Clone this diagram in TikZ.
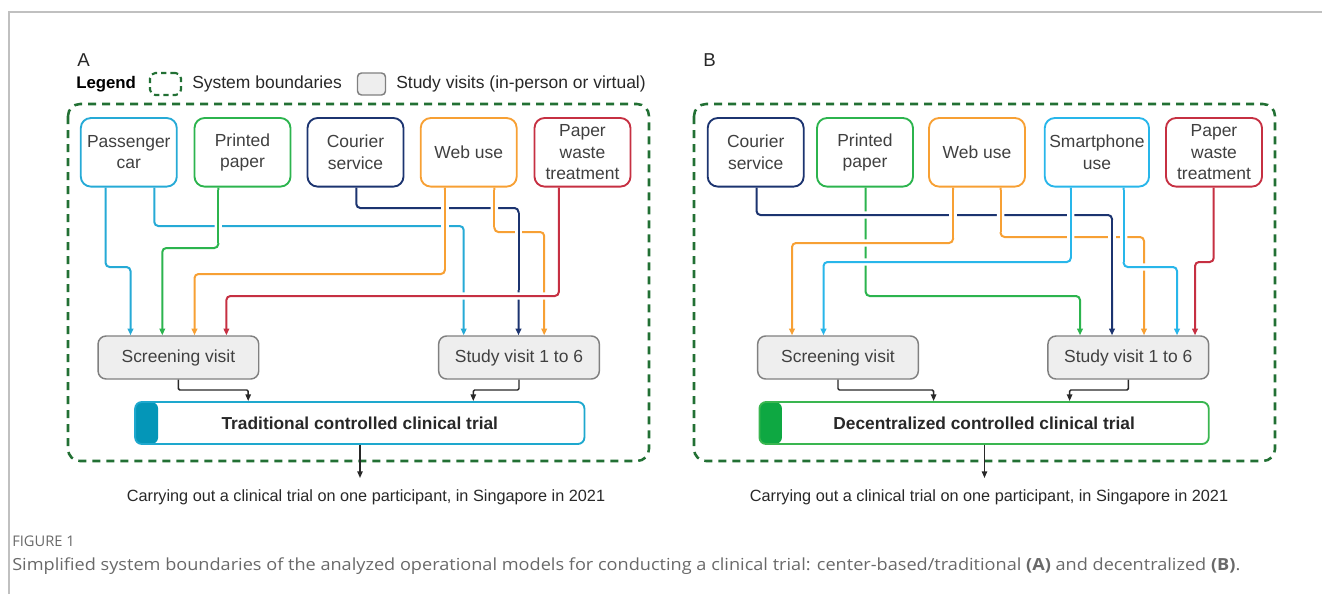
\documentclass[tikz,border=0pt]{standalone}
\usepackage{fontspec}
\setmainfont{Liberation Sans}
\newfontfamily\capfont{Open Sans}
\usetikzlibrary{arrows.meta}
\definecolor{cCyan}{RGB}{38,170,214}
\definecolor{cCyanB}{RGB}{40,182,234}
\definecolor{cGreen}{RGB}{44,180,78}
\definecolor{cNavy}{RGB}{28,52,112}
\definecolor{cOrange}{RGB}{247,160,52}
\definecolor{cRed}{RGB}{198,48,66}
\definecolor{cBound}{RGB}{34,112,52}
\definecolor{cBoxFill}{RGB}{238,238,238}
\definecolor{cBoxDraw}{RGB}{128,128,128}
\definecolor{cText}{RGB}{64,64,64}
\definecolor{cTrialA}{RGB}{30,168,206}
\definecolor{cTrialABar}{RGB}{4,150,184}
\definecolor{cTrialB}{RGB}{58,182,80}
\definecolor{cTrialBBar}{RGB}{14,168,66}
\definecolor{cFrame}{RGB}{192,192,192}
\definecolor{cCap}{RGB}{105,105,105}
\definecolor{cDark}{RGB}{40,40,40}
\pgfdeclarelayer{bg}
\pgfsetlayers{bg,main}
\begin{document}
\begin{tikzpicture}[x=0.75pt,y=-0.75pt,
 src/.style={draw, fill=white, rounded corners=7.5pt, line width=1.4pt, minimum height=51.4pt, minimum width=72pt, inner sep=0pt, align=center, text=cText, font=\fontsize{13.1pt}{16pt}\selectfont},
 visit/.style={draw=cBoxDraw, fill=cBoxFill, rounded corners=6pt, line width=1.1pt, minimum height=32.25pt, minimum width=120.5pt, inner sep=0pt, text=cText, font=\fontsize{13.1pt}{16pt}\selectfont},
 trial/.style={draw=#1, fill=white, rounded corners=5pt, line width=1.4pt, minimum height=31.5pt, minimum width=337pt, inner sep=0pt, font=\bfseries\fontsize{13pt}{16pt}\selectfont, text=cDark},
 bound/.style={draw=cBound, line width=1.9pt, dash pattern=on 6pt off 4.5pt, rounded corners=9pt},
 legdash/.style={draw=cBound, line width=1.6pt, dash pattern=on 4pt off 3pt, rounded corners=4pt, minimum width=23.25pt, minimum height=16.5pt, inner sep=0pt},
 conn/.style={line width=1.5pt, rounded corners=3pt, preaction={draw=white, line width=5.5pt, -}, -{Triangle[length=5pt,width=4.2pt]}},
 jump/.style={line width=1.5pt, preaction={draw=white, line width=5.5pt}},
 flow/.style={draw=cDark, line width=1.1pt, rounded corners=1pt, -{Triangle[length=5pt,width=4pt]}},
 lbl/.style={inner sep=0pt, text=cDark, font=\fontsize{13.1pt}{16pt}\selectfont},
]
\useasboundingbox (0,0) rectangle (1322,594);
\draw[cFrame, line width=1.2pt] (9,594) -- (9,12) -- (1322,12);

% ---------- labels and legend
\node[lbl, font=\fontsize{14pt}{16pt}\selectfont] (labA) at (83.5,60) {A};
\node[lbl, font=\fontsize{14pt}{16pt}\selectfont] (labB) at (709.5,60) {B};
\node[lbl, anchor=west, font=\bfseries\fontsize{12.6pt}{15pt}\selectfont, text=black] (leg) at (76,84) {Legend};
\node[legdash] (legB) at (165.5,84) {};
\node[lbl, anchor=west] (legBt) at (192,84) {System boundaries};
\node[visit, minimum width=21pt, minimum height=16.5pt, rounded corners=3pt] (legV) at (371.5,84) {};
\node[lbl, anchor=west] (legVt) at (396,84) {Study visits (in-person or virtual)};

% ---------- boundaries
\draw[bound] (68,104) rectangle (649,461);
\draw[bound] (694,104) rectangle (1275,461);

% ---------- panel A nodes
\node[src, draw=cCyan]   (pcA) at (128.8,152.3) {Passenger\\car};
\node[src, draw=cGreen]  (ppA) at (242.5,152.3) {Printed\\paper};
\node[src, draw=cNavy]   (csA) at (355.5,152.3) {Courier\\service};
\node[src, draw=cOrange] (wuA) at (468.7,152.3) {Web use};
\node[src, draw=cRed]    (pwA) at (582.5,152.3) {Paper\\waste\\treatment};
\node[visit] (svA) at (178.4,357.5) {Screening visit};
\node[visit] (stA) at (519,357.5) {Study visit 1 to 6};
\node[trial=cTrialA, path picture={\fill[cTrialABar] (path picture bounding box.north west) rectangle ([xshift=17.25pt]path picture bounding box.south west);}] (trA) at (359.8,423) {Traditional controlled clinical trial};

% ---------- panel B nodes
\node[src, draw=cNavy]   (csB) at (755.7,152.3) {Courier\\service};
\node[src, draw=cGreen]  (ppB) at (865,152.3) {Printed\\paper};
\node[src, draw=cOrange] (wuB) at (977,152.3) {Web use};
\node[src, draw=cCyanB, minimum width=78.2pt] (spB) at (1096.9,152.3) {Smartphone\\use};
\node[src, draw=cRed]    (pwB) at (1214,152.3) {Paper\\waste\\treatment};
\node[visit] (svB) at (838,357.5) {Screening visit};
\node[visit] (stB) at (1128.3,357.5) {Study visit 1 to 6};
\node[trial=cTrialB, path picture={\fill[cTrialBBar] (path picture bounding box.north west) rectangle ([xshift=16.9pt]path picture bounding box.south west);}] (trB) at (984.1,423) {Decentralized controlled clinical trial};

% ---------- connectors
\begin{pgfonlayer}{bg}
% panel A, pass 1
\draw[conn, cCyan]   (pcA.south -| 105.6,0) |- (130.5,267) -- (svA.north -| 130.5,0);
\draw[conn, cCyan]   (pcA.south -| 154.3,0) |- (463.7,226) -- (stA.north -| 463.7,0);
\draw[conn, cGreen]  (ppA.south -| 218.3,0) |- (162.3,248) -- (svA.north -| 162.3,0);
\draw[conn, cNavy]   (csA.south -| 356.3,0) |- (518.5,208) -- (stA.north -| 518.5,0);
\draw[conn, cOrange] (wuA.south -| 444.9,0) |- (194.5,274) -- (svA.north -| 194.5,0);
\draw[conn, cOrange] (wuA.south -| 494.4,0) |- (544.2,232) -- (stA.north -| 544.2,0);
\draw[conn, cRed]    (pwA.south -| 558.8,0) |- (226.4,296) -- (svA.north -| 226.4,0);
% panel A, pass 2 (vertical runs over horizontal runs)
\draw[jump, cGreen]  (218.3,190) -- (218.3,243);
\draw[jump, cOrange] (444.9,190) -- (444.9,269);
\draw[jump, cOrange] (494.4,190) -- (494.4,227);
\draw[jump, cNavy]   (518.5,213) -- (518.5,290);
% panel B, pass 1
\draw[conn, cGreen]  (ppB.south -| 865.7,0) |- (1080,296) -- (stB.north -| 1080,0);
\draw[conn, cNavy]   (csB.south -| 756.5,0) |- (1112,215) -- (stB.north -| 1112,0);
\draw[conn, cOrange] (wuB.south -| 1000.6,0) |- (1144,237) -- (stB.north -| 1144,0);
\draw[conn, cOrange] (wuB.south -| 953,0) |- (792,243) -- (svB.north -| 792,0);
\draw[conn, cCyanB]  (spB.south -| 1070.8,0) |- (823.5,262) -- (svB.north -| 823.5,0);
\draw[conn, cCyanB]  (spB.south -| 1123.7,0) |- (1177,267) -- (stB.north -| 1177,0);
\draw[conn, cRed]    (pwB.south -| 1213.7,0) |- (1195,262) -- (stB.north -| 1195,0);
% panel B, pass 2
\draw[jump, cOrange] (953,190) -- (953,238);
\draw[jump, cOrange] (1000.6,190) -- (1000.6,232);
\draw[jump, cCyanB]  (1070.8,190) -- (1070.8,257);
\draw[jump, cNavy]   (1112,220) -- (1112,290);
\draw[jump, cCyanB]  (1123.7,190) -- (1123.7,262);
\end{pgfonlayer}

% ---------- flows to trial and out
\draw[flow] (svA.south) |- (248.2,390) -- (trA.north -| 248.2,0);
\draw[flow] (stA.south) |- (473.3,390) -- (trA.north -| 473.3,0);
\coordinate (outA) at (360,478);
\draw[flow] (trA.south -| outA) -- (outA);
\draw[flow] (svB.south) |- (933.6,390) -- (trB.north -| 933.6,0);
\draw[flow] (stB.south) |- (1069.6,390) -- (trB.north -| 1069.6,0);
\coordinate (outB) at (984.5,478);
\draw[flow] (trB.south -| outB) -- (outB);

\node[lbl, font=\fontsize{12.2pt}{14pt}\selectfont] (txA) at (366,497) {Carrying out a clinical trial on one participant, in Singapore in 2021};
\node[lbl, font=\fontsize{12.2pt}{14pt}\selectfont] (txB) at (989,497) {Carrying out a clinical trial on one participant, in Singapore in 2021};

% ---------- caption
\node[anchor=west, inner sep=0pt, text=cCap, font=\capfont\fontsize{11pt}{13pt}\selectfont] (fig) at (12,541) {FIGURE 1};
\node[anchor=west, inner sep=0pt, text=cCap] (cap) at (12,566) {\resizebox{921pt}{\height}{\capfont\fontsize{12.5pt}{14pt}\selectfont Simplified system boundaries of the analyzed operational models for conducting a clinical trial: center-based/traditional \textbf{(A)} and decentralized \textbf{(B)}.}};
\end{tikzpicture}
\end{document}
